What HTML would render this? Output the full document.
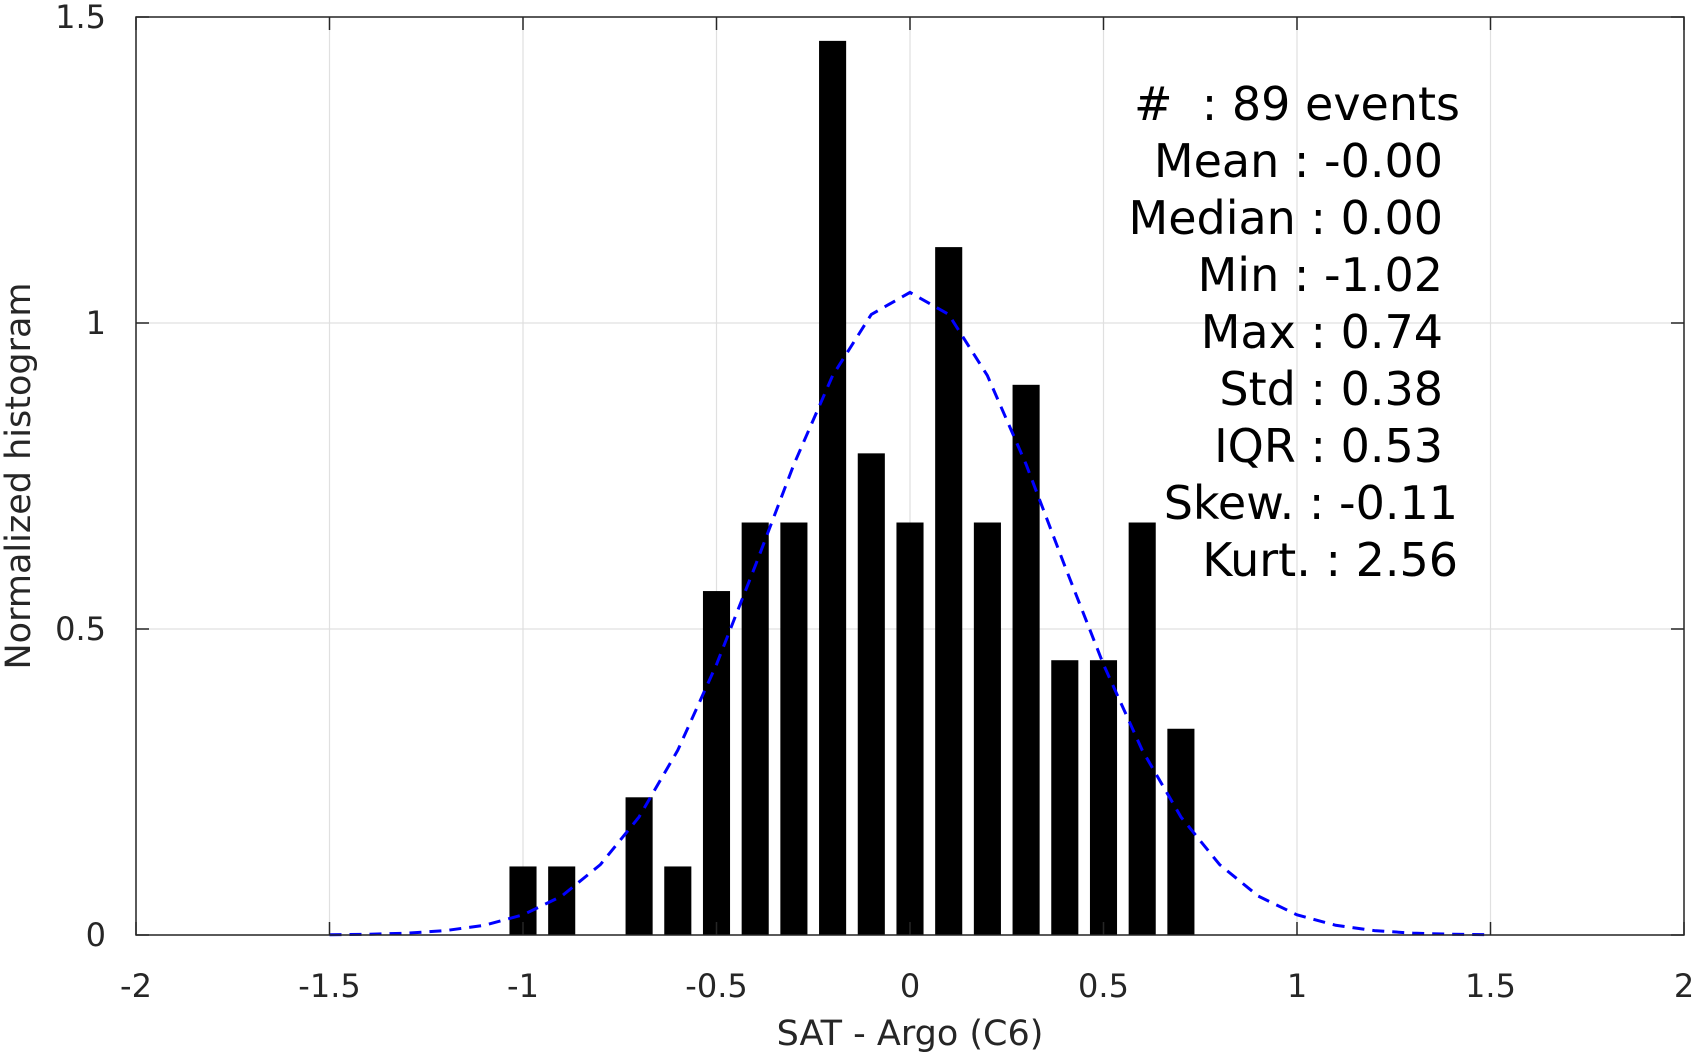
<!DOCTYPE html>
<html><head><meta charset="utf-8"><style>
html,body{margin:0;padding:0;background:#fff;}
svg{display:block;font-family:"DejaVu Sans","Liberation Sans",sans-serif;}
</style></head><body>
<svg id="chart" width="1703" height="1056" viewBox="0 0 1703 1056" xmlns="http://www.w3.org/2000/svg">
<g id="grid"></g>
<g id="bars"></g>
<polyline id="fit" fill="none" stroke="#0000ff" stroke-width="3" stroke-dasharray="12,8"/>
<g id="axes"></g>
<text transform="translate(30,476) rotate(-90)" text-anchor="middle" font-size="35" fill="#262626">Normalized histogram</text>
<text x="910" y="1045" text-anchor="middle" font-size="35" fill="#262626">SAT - Argo (C6)</text>
<g font-size="46" fill="#000">
<text x="1460" y="120" text-anchor="end" xml:space="preserve">#  : 89 events</text>
<text x="1443" y="177" text-anchor="end">Mean : -0.00</text>
<text x="1443" y="234" text-anchor="end">Median : 0.00</text>
<text x="1443" y="291" text-anchor="end">Min : -1.02</text>
<text x="1443" y="348" text-anchor="end">Max : 0.74</text>
<text x="1443" y="405" text-anchor="end">Std : 0.38</text>
<text x="1443" y="462" text-anchor="end">IQR : 0.53</text>
<text x="1458" y="519" text-anchor="end">Skew. : -0.11</text>
<text x="1458" y="576" text-anchor="end">Kurt. : 2.56</text>
</g>
</svg>
<script>
const binCenters=[-1.0,-0.9,-0.8,-0.7,-0.6,-0.5,-0.4,-0.3,-0.2,-0.1,0.0,0.1,0.2,0.3,0.4,0.5,0.6,0.7];
const binHeights=[0.112,0.112,0,0.225,0.112,0.562,0.674,0.674,1.461,0.787,0.674,1.124,0.674,0.899,0.449,0.449,0.674,0.337];
const fitX=[-1.5,-1.4,-1.3,-1.2,-1.1,-1.0,-0.9,-0.8,-0.7,-0.6,-0.5,-0.4,-0.3,-0.2,-0.1,0,0.1,0.2,0.3,0.4,0.5,0.6,0.7,0.8,0.9,1.0,1.1,1.2,1.3,1.4,1.5];
const fitY=[0.0004,0.0012,0.003,0.0072,0.0159,0.0329,0.0635,0.115,0.193,0.302,0.442,0.603,0.769,0.914,1.014,1.05,1.014,0.914,0.769,0.603,0.442,0.302,0.193,0.115,0.0635,0.0329,0.0159,0.0072,0.003,0.0012,0.0004];
const xTicks=[-2,-1.5,-1,-0.5,0,0.5,1,1.5,2];
const xTickLabels=["-2","-1.5","-1","-0.5","0","0.5","1","1.5","2"];
const yTicks=[0,0.5,1,1.5];
const yTickLabels=["0","0.5","1","1.5"];
const L=136,R=1684,T=17,B=935,xMin=-2,xMax=2,yMax=1.5,barW=0.07;
const sx=v=>L+(v-xMin)/(xMax-xMin)*(R-L);
const sy=v=>B-v/yMax*(B-T);
const NS="http://www.w3.org/2000/svg";
function mk(tag,attrs,parent){const e=document.createElementNS(NS,tag);for(const k in attrs)e.setAttribute(k,attrs[k]);parent.appendChild(e);return e;}
const grid=document.getElementById('grid'),bars=document.getElementById('bars'),axes=document.getElementById('axes');
xTicks.forEach(t=>{const l=mk('line',{x1:sx(t),x2:sx(t),y1:T,y2:B,stroke:'#e0e0e0','stroke-width':1.2},grid);});
yTicks.forEach(t=>{const l=mk('line',{x1:L,x2:R,y1:sy(t),y2:sy(t),stroke:'#e0e0e0','stroke-width':1.2},grid);});
binCenters.forEach((c,i)=>{if(binHeights[i]<=0)return;const r=mk('rect',{x:sx(c-barW/2),y:sy(binHeights[i]),width:sx(c+barW/2)-sx(c-barW/2),height:B-sy(binHeights[i]),fill:'#000'},bars);});
document.getElementById('fit').setAttribute('points',fitX.map((x,i)=>sx(x)+','+sy(fitY[i])).join(' '));
const ac='#262626';
mk('rect',{x:L,y:T,width:R-L,height:B-T,fill:'none',stroke:ac,'stroke-width':1.5},axes);
xTicks.forEach((t,i)=>{mk('line',{x1:sx(t),x2:sx(t),y1:B,y2:B-13,stroke:ac,'stroke-width':1.5},axes);mk('line',{x1:sx(t),x2:sx(t),y1:T,y2:T+13,stroke:ac,'stroke-width':1.5},axes);
const tx=mk('text',{x:sx(t),y:997,'text-anchor':'middle','font-size':32,fill:ac},axes);tx.textContent=xTickLabels[i];});
yTicks.forEach((t,i)=>{mk('line',{x1:L,x2:L+13,y1:sy(t),y2:sy(t),stroke:ac,'stroke-width':1.5},axes);mk('line',{x1:R,x2:R-13,y1:sy(t),y2:sy(t),stroke:ac,'stroke-width':1.5},axes);
const tx=mk('text',{x:106,y:sy(t)+11,'text-anchor':'end','font-size':32,fill:ac},axes);tx.textContent=yTickLabels[i];});
</script>
</body></html>
